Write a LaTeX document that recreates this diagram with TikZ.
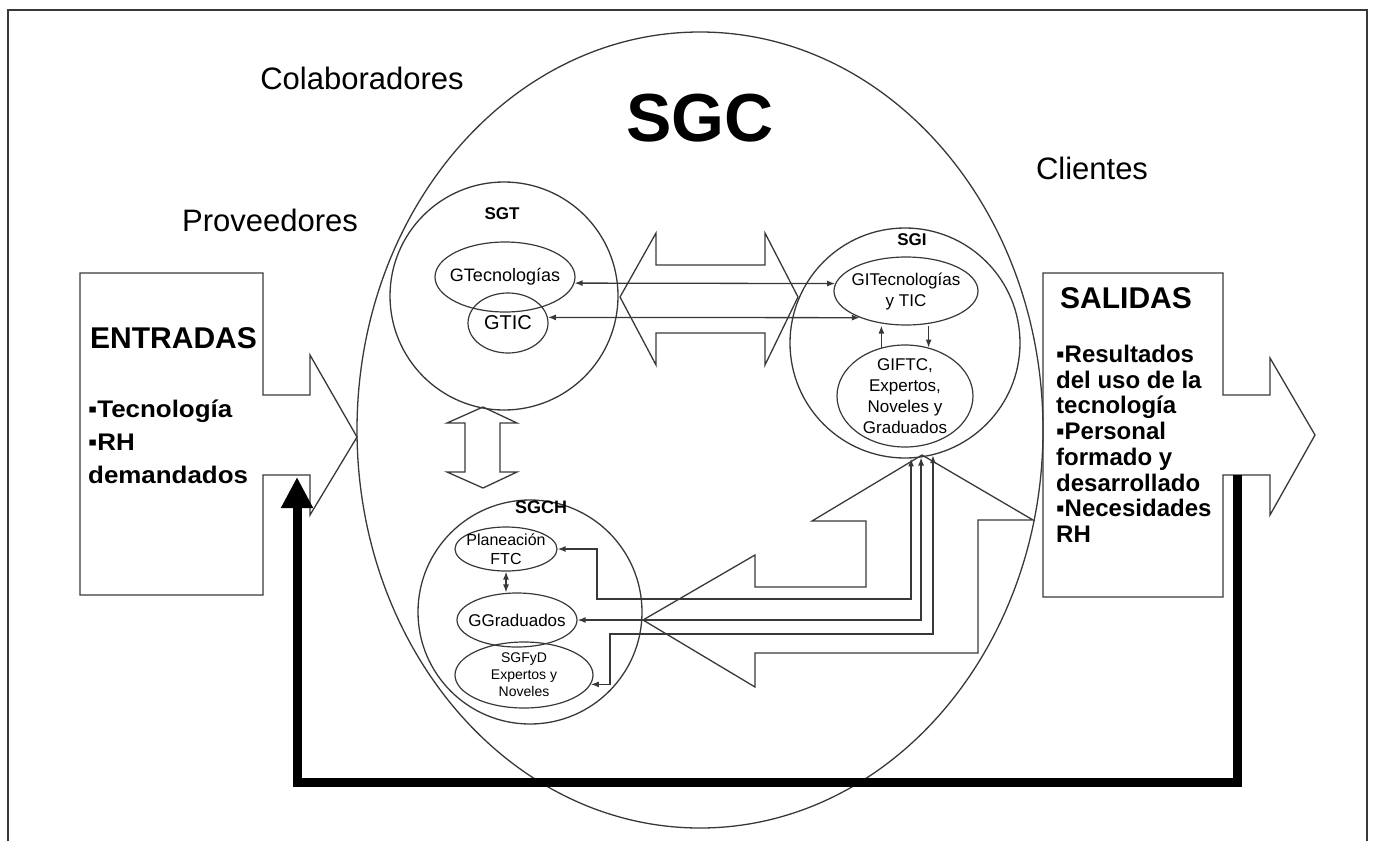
\documentclass[tikz,border=0pt]{standalone}
\usepackage{fontspec}
\setmainfont{Liberation Sans}
\newfontfamily\listafont{Liberation Sans}[FakeStretch=1.08]
\usetikzlibrary{arrows.meta,shapes.geometric}
\definecolor{linea}{RGB}{60,55,55}
\tikzset{
  subsis/.style={draw=linea, line width=1.3pt, circle, inner sep=0pt},
  grupo/.style={draw=linea, line width=1.2pt, ellipse, inner sep=0pt, align=center, font=\fontsize{17}{21}\selectfont},
  bloque/.style={draw=linea, line width=1.3pt, line join=miter},
  enlace/.style={draw=linea, line width=1.3pt, {Latex[length=8pt,width=6pt]}-{Latex[length=8pt,width=6pt]}},
  sube/.style={draw=linea, line width=1.3pt, -{Latex[length=8pt,width=6pt]}},
  titulo/.style={font=\fontsize{31}{36}\selectfont},
  cabeza/.style={anchor=west, inner sep=0pt, font=\fontsize{30}{36}\selectfont\bfseries},
  etiq/.style={font=\fontsize{17}{20}\selectfont\bfseries, inner sep=0pt}
}
\begin{document}
\begin{tikzpicture}[x=1pt,y=-1pt]
\useasboundingbox (0,0) rectangle (1373,841);
\draw[linea, line width=2pt] (8,841) -- (8,10) -- (1367,10) -- (1367,841);

\node[draw=linea, line width=1.3pt, ellipse, minimum width=686pt, minimum height=796pt] (sgc) at (700,430) {};
\node[font=\fontsize{68}{80}\selectfont\bfseries] (sgclab) at (700,118) {SGC};
\node[titulo] (colab) at (362,78) {Colaboradores};
\node[titulo] (prov) at (270,220) {Proveedores};
\node[titulo] (cli) at (1092,168) {Clientes};

% entradas y salidas
\draw[bloque] (80,273) -- (263,273) -- (263,395) -- (310,395) -- (310,355) -- (357,437) -- (310,515) -- (310,475) -- (263,475) -- (263,595) -- (80,595) -- cycle;
\node[cabeza] (entradas) at (90,338) {ENTRADAS};
\node[anchor=north west, align=left, inner sep=0pt, font=\listafont\fontsize{24}{33}\selectfont\bfseries] (entlista) at (88,400) {▪Tecnología\\▪RH\\demandados};

\draw[bloque] (1043,273) -- (1223,273) -- (1223,395) -- (1270,395) -- (1270,358) -- (1315,435) -- (1270,515) -- (1270,475) -- (1223,475) -- (1223,597) -- (1043,597) -- cycle;
\node[cabeza] (salidas) at (1060,298) {SALIDAS};
\node[anchor=north west, align=left, inner sep=0pt, font=\fontsize{24}{25.7}\selectfont\bfseries] (sallista) at (1056,345) {▪Resultados\\del uso de la\\tecnología\\▪Personal\\formado y\\desarrollado\\▪Necesidades\\RH};

% flechas huecas
\draw[bloque] (620,297) -- (656,233) -- (656,265) -- (765,265) -- (765,233) -- (798,297) -- (765,365) -- (765,333) -- (656,333) -- (656,365) -- cycle;
\draw[bloque] (483,407) -- (517,423) -- (500,423) -- (500,472) -- (517,472) -- (483,488) -- (447,472) -- (465,472) -- (465,423) -- (447,423) -- cycle;
\draw[bloque] (643,620) -- (755,555) -- (755,587) -- (866,587) -- (866,521) -- (812,521) -- (922,455) -- (1033,520) -- (978,520) -- (978,653) -- (755,653) -- (755,687) -- cycle;

% subsistemas
\node[subsis, minimum size=228pt] (sgt) at (504,296) {};
\node[etiq] (sgtlab) at (502,214) {SGT};
\node[subsis, minimum size=230pt] (sgi) at (905,343) {};
\node[etiq] (sgilab) at (912,240) {SGI};
\node[subsis, minimum size=224pt] (sgch) at (530,612) {};
\node[etiq, font=\fontsize{18}{20}\selectfont\bfseries] (sgchlab) at (541,507) {SGCH};

\node[grupo, minimum width=140pt, minimum height=70pt, inner xsep=-8pt, font=\fontsize{18}{21}\selectfont] (gtec) at (505,277) {GTecnologías};
\node[grupo, minimum width=80pt, minimum height=60pt, font=\fontsize{20}{24}\selectfont] (gtic) at (508,323) {GTIC};
\node[grupo, minimum width=144pt, minimum height=68pt, inner xsep=-7pt] (gitec) at (906,291) {GITecnologías\\y TIC};
\node[grupo, minimum width=136pt, minimum height=102pt, inner sep=-16pt] (giftc) at (905,396) {GIFTC,\\Expertos,\\Noveles y\\Graduados};
\node[grupo, minimum width=102pt, minimum height=44pt, inner sep=-10pt, font=\fontsize{16}{19}\selectfont] (plan) at (506,549) {Planeación\\FTC};
\node[grupo, minimum width=120pt, minimum height=54pt, inner xsep=-9pt] (ggrad) at (517,620) {GGraduados};
\node[grupo, minimum width=138pt, minimum height=66pt, inner sep=-7pt, font=\fontsize{14}{17}\selectfont] (sgfyd) at (524,675) {SGFyD\\Expertos y\\Noveles};

% enlaces
\draw[enlace] (gtec.-5) -- (gitec.174);
\draw[enlace] (gtic.8) -- (gitec.210);
\draw[sube] (giftc.116) -- (giftc.116 |- gitec.south);
\draw[sube] (giftc.64 |- gitec.south) -- (giftc.64);
\draw[enlace] (plan.south) -- (plan.south |- ggrad.north);
\draw[enlace] (plan.east) -| (597,599) -| (sgi.273.5);
\draw[enlace] (ggrad.east) -| (sgi.278.5);
\draw[enlace] (sgfyd.-8) -| (610,634) -| (sgi.284.6);

% retroalimentacion
\coordinate (salret) at (1237,475);
\coordinate (entret) at (297,477);
\draw[line width=9pt, -{Triangle[length=31pt,width=30pt]}] (salret) -- (1237,782) -| (entret);
\end{tikzpicture}
\end{document}
